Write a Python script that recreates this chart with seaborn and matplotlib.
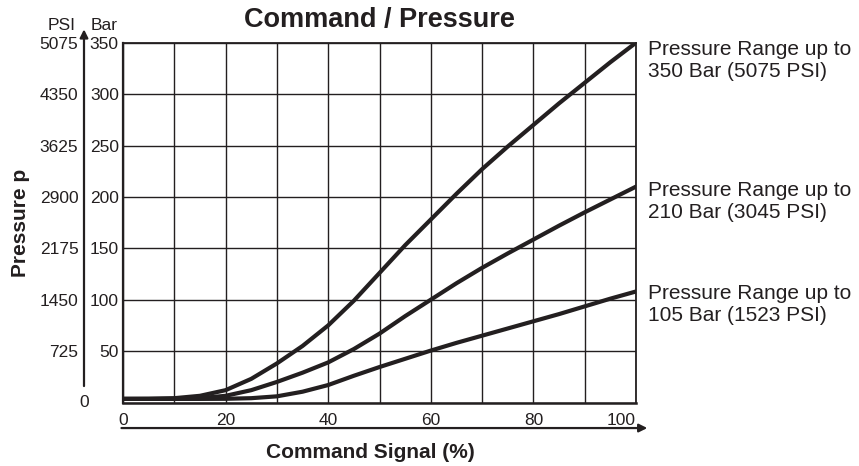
import matplotlib
matplotlib.use("Agg")
import matplotlib.pyplot as plt
import seaborn as sns
import pandas as pd

# ---- data ----
signal = [0, 5, 10, 15, 20, 25, 30, 35, 40, 45, 50, 55, 60, 65, 70, 75, 80, 85, 90, 95, 100]
bar_350 = [3.5, 3.6, 4.2, 6.5, 12, 23, 38, 55, 75, 99, 126, 153, 178, 203, 227, 249, 270, 291, 311, 331, 350]
bar_210 = [3.5, 3.5, 3.6, 4.3, 6.5, 12, 20, 29, 39, 52, 67, 84, 100, 116, 131, 145, 158.5, 172, 185, 197.5, 210]
bar_105 = [3.5, 3.5, 3.5, 3.5, 3.6, 4.2, 6, 10.5, 17, 26, 34.5, 42.5, 50.5, 58, 65, 72, 79, 86, 93.5, 101, 108]
series_names = ["Pressure Range up to\n350 Bar (5075 PSI)",
                "Pressure Range up to\n210 Bar (3045 PSI)",
                "Pressure Range up to\n105 Bar (1523 PSI)"]
bar_ticks = [0, 50, 100, 150, 200, 250, 300, 350]
bar_tick_labels = ["", "50", "100", "150", "200", "250", "300", "350"]
psi_ticks = [725, 1450, 2175, 2900, 3625, 4350, 5075]
psi_tick_labels = ["725", "1450", "2175", "2900", "3625", "4350", "5075"]
x_ticks = [0, 10, 20, 30, 40, 50, 60, 70, 80, 90, 100]
x_tick_labels = ["0", "", "20", "", "40", "", "60", "", "80", "", "100"]
PSI_PER_BAR = 14.5

df = pd.concat([
    pd.DataFrame({"signal": signal, "bar": vals, "range": name})
    for name, vals in zip(series_names, [bar_350, bar_210, bar_105])
], ignore_index=True)

sns.set_style("white")
plt.rcParams["font.family"] = ["Liberation Sans", "DejaVu Sans"]
INK = "#231f20"

fig = plt.figure(figsize=(8.59, 4.66), dpi=100)
W, H = 859, 466
ax = fig.add_axes([123 / W, 63.5 / H, 513 / W, 359.8 / H])

sns.lineplot(data=df, x="signal", y="bar", hue="range", palette=[INK] * 3,
             legend=False, linewidth=3.0, ax=ax, zorder=3)
for line in ax.get_lines():
    line.set_solid_joinstyle("round")
    line.set_solid_capstyle("round")

ax.set_xlim(0, 100)
ax.set_ylim(0, 350)
ax.set_xticks(x_ticks)
ax.set_xticklabels(x_tick_labels, fontsize=12.5)
ax.get_xticklabels()[-1].set_ha("right")
ax.set_yticks(bar_ticks)
ax.set_yticklabels(bar_tick_labels, fontsize=12.5)
ax.tick_params(axis="both", length=0, colors=INK)
ax.tick_params(axis="y", pad=3)
ax.tick_params(axis="x", pad=7.5)
ax.grid(True, color=INK, linewidth=1.0)
for s in ax.spines.values():
    s.set_visible(True)
    s.set_color(INK)
    s.set_linewidth(1.3)
ax.spines["bottom"].set_linewidth(1.8)
ax.spines["left"].set_linewidth(1.6)

# PSI secondary scale
psi_x = (84 - 123) / 513
sec = ax.secondary_yaxis(psi_x, functions=(lambda b: b * PSI_PER_BAR, lambda p: p / PSI_PER_BAR))
sec.set_alignment("left")
sec.set_yticks(psi_ticks)
sec.set_yticklabels(psi_tick_labels, fontsize=12.5)
sec.tick_params(length=0, pad=4, colors=INK)
for s in sec.spines.values():
    s.set_visible(False)
ax.text(psi_x, 0, "0", transform=ax.get_yaxis_transform(), ha="center", va="center",
        fontsize=12.5, color=INK)
ax.annotate("", xy=(psi_x, 363), xytext=(psi_x, 16), xycoords=ax.get_yaxis_transform(),
            textcoords=ax.get_yaxis_transform(),
            arrowprops=dict(arrowstyle="-|>", lw=1.6, color=INK, mutation_scale=12,
                            shrinkA=0, shrinkB=0))
ax.text((62 - 123) / 513, 1.049, "PSI", transform=ax.transAxes, ha="center", va="center",
        fontsize=12.5, color=INK)
ax.text((104 - 123) / 513, 1.049, "Bar", transform=ax.transAxes, ha="center", va="center",
        fontsize=12.5, color=INK)

# x arrow
ax.annotate("", xy=(102.2, -0.071), xytext=(-0.3, -0.071), xycoords=ax.get_xaxis_transform(),
            textcoords=ax.get_xaxis_transform(),
            arrowprops=dict(arrowstyle="-|>", lw=1.6, color=INK, mutation_scale=12,
                            shrinkA=0, shrinkB=0))

# labels
ax.set_xlabel("Command Signal (%)", fontsize=15, fontweight="bold", color=INK)
ax.xaxis.set_label_coords(0.483, -0.113)
ax.set_ylabel("")
ax.text(-0.2, 0.5, "Pressure p", transform=ax.transAxes, rotation=90, ha="center",
        va="center", fontsize=15, fontweight="bold", color=INK)
ax.set_title("Command / Pressure", fontsize=19.5, fontweight="bold", color=INK, pad=11)

# right-hand series labels (baseline of the last line)
label_y = [316.5, 179, 79.5]
for name, yv in zip(series_names, label_y):
    ax.text(102.4, yv, name, transform=ax.transData, ha="left", va="baseline",
            fontsize=15, color=INK, clip_on=False, linespacing=1.2)

fig.savefig("out.png", dpi=100)
